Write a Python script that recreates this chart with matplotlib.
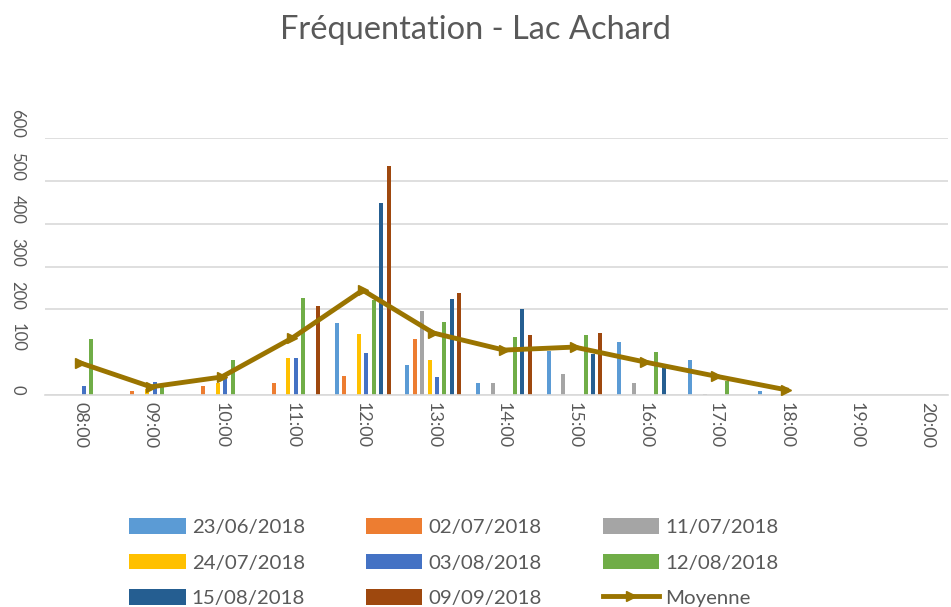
import numpy as np
import matplotlib.pyplot as plt

plt.rcParams['font.family'] = ['Lato', 'DejaVu Sans']

heures = ['08:00', '09:00', '10:00', '11:00', '12:00', '13:00', '14:00',
          '15:00', '16:00', '17:00', '18:00', '19:00', '20:00']

# comptages par jour
j_23_06 = [0, 0, 0, 0, 169, 70, 27, 102, 123, 81, 10, 0, 0]
j_02_07 = [0, 9, 20, 28, 45, 130, 0, 0, 0, 0, 0, 0, 0]
j_11_07 = [0, 0, 0, 0, 0, 197, 27, 48, 29, 2, 0, 0, 0]
j_24_07 = [0, 15, 28, 87, 142, 82, 0, 0, 0, 0, 0, 0, 0]
j_03_08 = [21, 30, 42, 87, 99, 43, 0, 0, 0, 0, 0, 0, 0]
j_12_08 = [130, 20, 82, 226, 222, 171, 135, 141, 100, 32, 0, 0, 0]
j_15_08 = [0, 0, 0, 0, 449, 224, 201, 95, 64, 0, 0, 0, 0]
j_09_09 = [0, 0, 0, 208, 536, 239, 141, 145, 0, 0, 0, 0, 0]
moyenne = [75, 19, 42, 133, 245, 145, 105, 112, 77, 44, 12]

dates = ['23/06/2018', '02/07/2018', '11/07/2018', '24/07/2018',
         '03/08/2018', '12/08/2018', '15/08/2018', '09/09/2018']
series = [j_23_06, j_02_07, j_11_07, j_24_07, j_03_08, j_12_08, j_15_08, j_09_09]
couleurs = ['#5B9BD5', '#ED7D31', '#A5A5A5', '#FFC000',
            '#4472C4', '#70AD47', '#255E91', '#9E480E']

fig = plt.figure(figsize=(9.51, 6.07), dpi=100)
ax = fig.add_axes([45 / 951, 1 - 395 / 607, 903 / 951, (395 - 138.3) / 607])

x = np.arange(len(heures))
pas = 0.105
handles = []
for i, (vals, lab, c) in enumerate(zip(series, dates, couleurs)):
    b = ax.bar(x + (i - 3.5) * pas, vals, width=0.056, color=c, label=lab, zorder=2)
    handles.append(b)

ligne, = ax.plot(x[:len(moyenne)], moyenne, color='#9A7400', lw=3.5,
                 marker='>', markersize=7, label='Moyenne', zorder=3)
handles.append(ligne)

ax.set_xlim(-0.5, 12.29)
ax.set_ylim(0, 600)
ax.set_yticks(range(0, 700, 100))
ax.set_xticks(x)
ax.set_xticklabels(heures)
ax.grid(axis='y', color='#D9D9D9', lw=1.2, zorder=0)
ax.yaxis.get_gridlines()[1].set_visible(False)
for s in ['top', 'right', 'left']:
    ax.spines[s].set_visible(False)
ax.spines['bottom'].set_color('#D9D9D9')
ax.spines['bottom'].set_linewidth(1.2)
ax.tick_params(length=0, colors='#595959', labelsize=12)
ax.tick_params(axis='x', labelsize=13, pad=5)
ax.tick_params(axis='y', pad=14)
plt.setp(ax.get_xticklabels(), rotation=270, va='top', ha='center')
plt.setp(ax.get_yticklabels(), rotation=270, va='bottom', ha='right')

fig.suptitle('Fréquentation - Lac Achard', x=0.5, y=1 - 30 / 607, va='center',
             fontsize=23.5, color='#595959')

ordre = [0, 3, 6, 1, 4, 7, 2, 5, 8]
fig.legend([handles[k] for k in ordre], [(dates + ['Moyenne'])[k] for k in ordre],
           ncol=3, loc='upper left', bbox_to_anchor=(111 / 951, 1 - 500 / 607),
           frameon=False, fontsize=14.7, labelcolor='#595959',
           handlelength=2.75, handleheight=0.8, handletextpad=0.3,
           columnspacing=3.0, labelspacing=0.85)

fig.savefig('out.png', dpi=100)
